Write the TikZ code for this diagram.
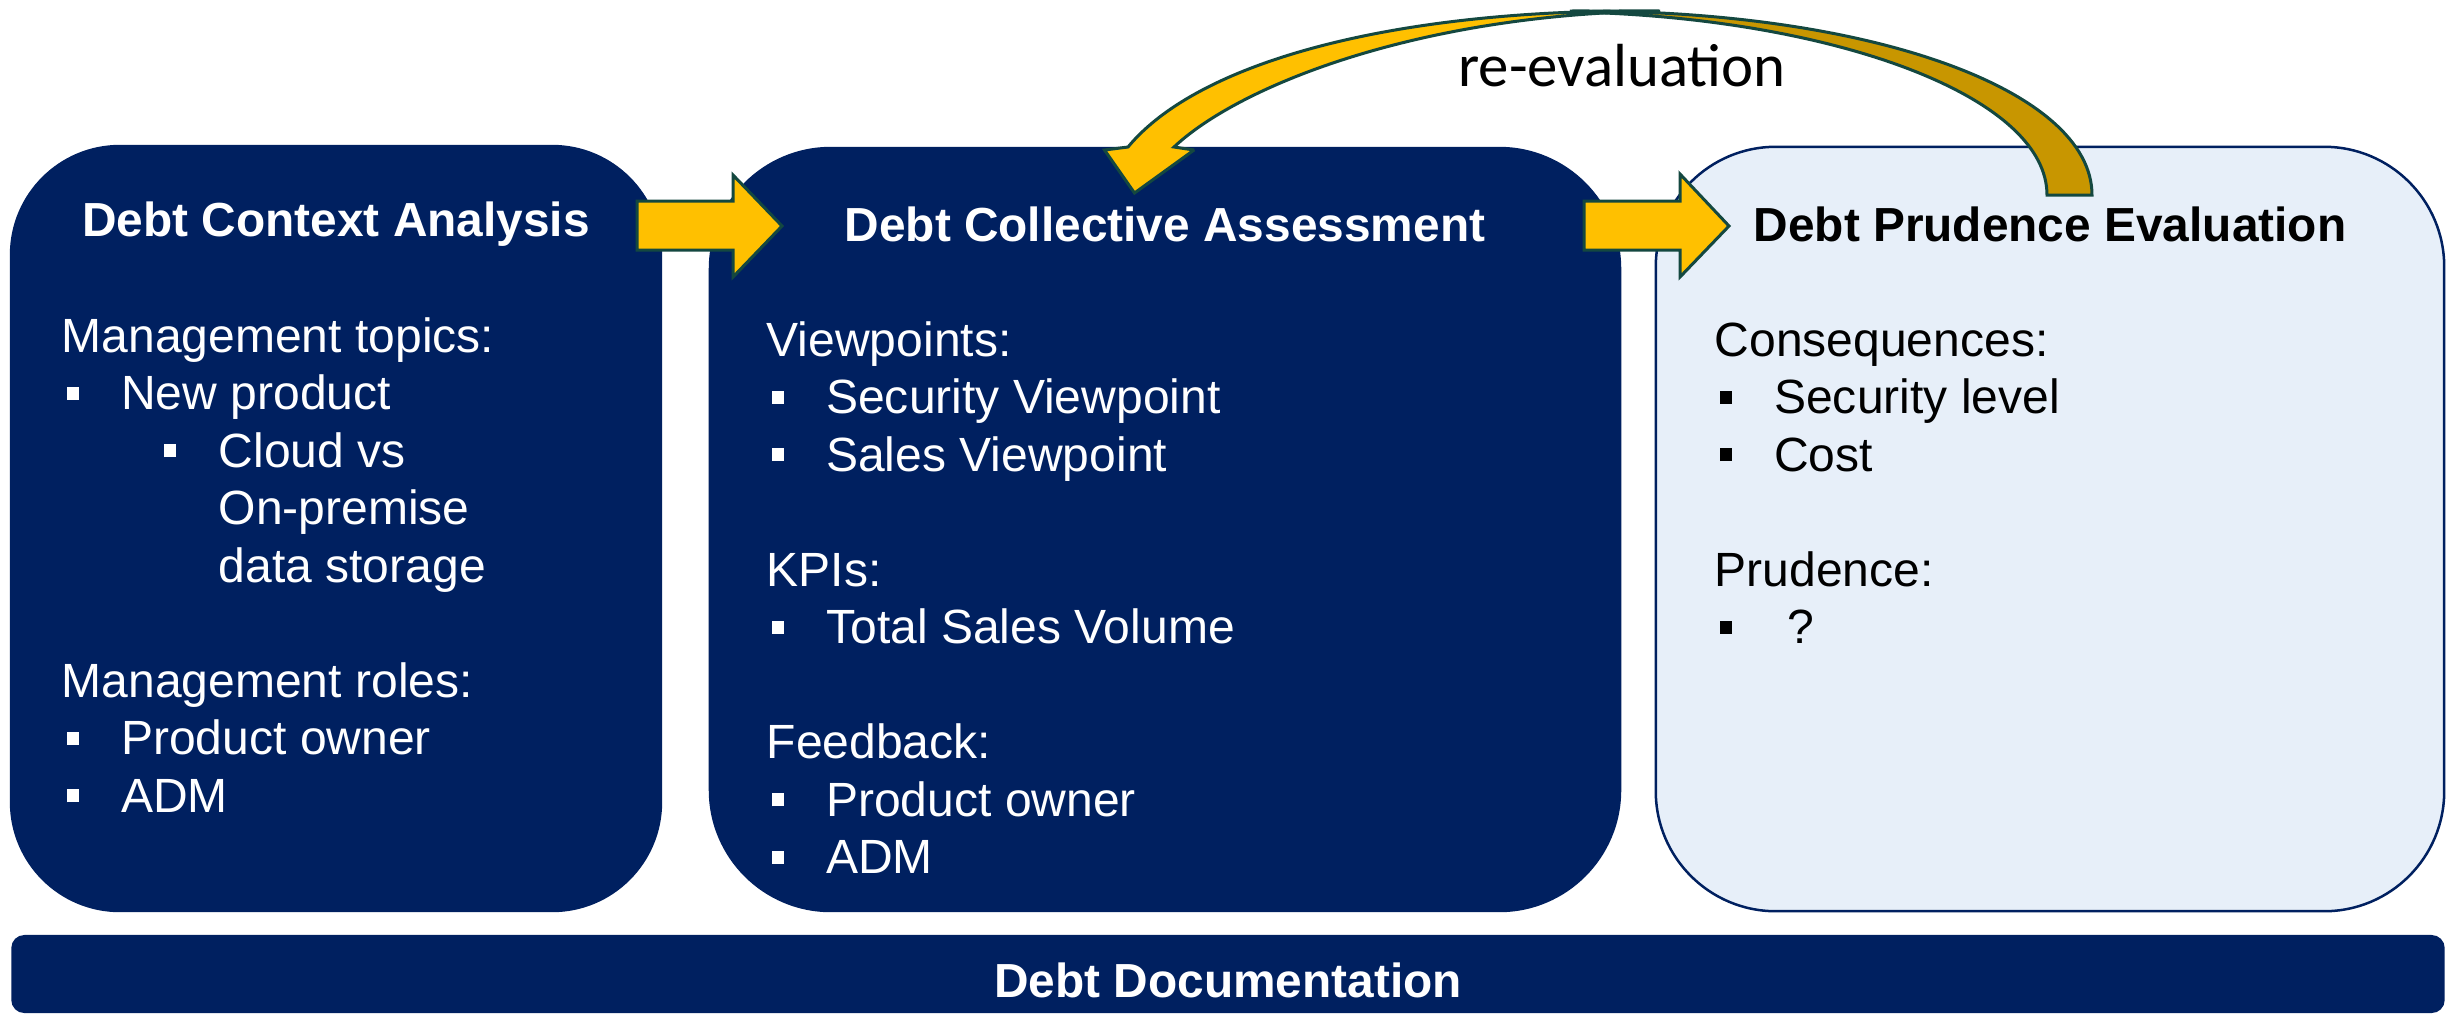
\documentclass[tikz,border=0pt]{standalone}
\usepackage{fontspec}
\setmainfont{Liberation Sans}
\newfontfamily\calib{Carlito}
\definecolor{navy}{RGB}{0,32,96}
\definecolor{paleblue}{RGB}{231,239,249}
\definecolor{arrowyellow}{RGB}{255,192,0}
\definecolor{arrowgold}{RGB}{200,150,0}
\definecolor{arrowedge}{RGB}{20,72,64}
\newcommand\bodyfnt{\fontsize{13.66pt}{16.36pt}\selectfont}
\newcommand\bsq{\rule[0.1cm]{0.125cm}{0.13cm}}
\newcommand\itm[1]{\hbox{\hspace*{0.05cm}\bsq\hspace*{0.42cm}#1}}
\newcommand\sitm[1]{\hbox{\hspace*{1.02cm}\bsq\hspace*{0.425cm}#1}}
\newcommand\cont[1]{\hbox{\hspace*{1.57cm}#1}}
\newcommand\plain[1]{\hbox{#1}}
\newcommand\blankline{\hbox{}}
\begin{document}
\begin{tikzpicture}[x=0.01cm,y=-0.01cm,
  darkbox/.style={rectangle,fill=navy,inner sep=0pt},
  lightbox/.style={rectangle,fill=paleblue,draw=navy,line width=0.025cm,inner sep=0pt},
  titletxt/.style={anchor=base,inner sep=0pt,font=\bfseries\fontsize{13.6pt}{16pt}\selectfont},
  bodytxt/.style={anchor=base west,inner sep=0pt},
  blockarrow/.style={fill=arrowyellow,draw=arrowedge,line width=0.03cm},
  curvefront/.style={fill=arrowyellow,draw=arrowedge,line width=0.03cm,miter limit=2.5},
  curveback/.style={fill=arrowgold,draw=arrowedge,line width=0.03cm,miter limit=2.5}]
\useasboundingbox[fill=white] (0,0) rectangle (2453,1020);

% boxes
\node[darkbox,rounded corners=1.1cm,minimum width=6.52cm,minimum height=7.67cm] (ctx) at (336,528.5) {};
\node[darkbox,rounded corners=1.22cm,minimum width=9.12cm,minimum height=7.65cm] (col) at (1165,529.5) {};
\node[lightbox,rounded corners=1.2cm,minimum width=7.88cm,minimum height=7.64cm] (pru) at (2050,529) {};
\node[darkbox,rounded corners=0.13cm,minimum width=24.32cm,minimum height=0.78cm] (doc) at (1228,974) {};

% block arrows between boxes
\path[blockarrow] (637,201) -- (733,201) -- (733,175) -- (782,226) -- (733,277) -- (733,250) -- (637,250) -- cycle;
\path[blockarrow] (1584,201) -- (1680,201) -- (1680,174) -- (1729,226) -- (1680,277) -- (1680,250) -- (1584,250) -- cycle;

% curved re-evaluation arrow
\path[curveback] (1570,11) .. controls (1870,9) and (2092,90) .. (2092,195) -- (2047,195) .. controls (2047,100) and (1850,24) .. (1605,13) -- cycle;
\path[curvefront] (1104.5,150) -- (1128,147) .. controls (1200,60) and (1400,8) .. (1660,11) .. controls (1420,14) and (1240,85) .. (1174,147) -- (1194,150) -- (1134.5,193) -- cycle;

\node[anchor=base,inner sep=0pt,font=\calib\fontsize{17.3pt}{20pt}\selectfont] (reeval) at (1622,86) {re-evaluation};

% titles
\node[titletxt,text=white] (ctxtitle) at (336,236) {Debt Context Analysis};
\node[titletxt,text=white] (coltitle) at (1165,241) {Debt Collective Assessment};
\node[titletxt,text=black] (prutitle) at (2050,241) {Debt Prudence Evaluation};
\node[titletxt,text=white] (doctitle) at (1228,997) {Debt Documentation};

% bodies
\node[bodytxt,text=white] (ctxbody) at (61,352) {\vtop{\bodyfnt
  \plain{Management topics:}
  \itm{New product}
  \sitm{Cloud vs}
  \cont{On-premise}
  \cont{data storage}
  \blankline
  \plain{Management roles:}
  \itm{Product owner}
  \itm{ADM}}};
\node[bodytxt,text=white] (colbody) at (766,356) {\vtop{\bodyfnt
  \plain{Viewpoints:}
  \itm{Security Viewpoint}
  \itm{Sales Viewpoint}
  \blankline
  \plain{KPIs:}
  \itm{Total Sales Volume}
  \blankline
  \plain{Feedback:}
  \itm{Product owner}
  \itm{ADM}}};
\node[bodytxt,text=black] (prubody) at (1714,356) {\vtop{\bodyfnt
  \plain{Consequences:}
  \itm{Security level}
  \itm{Cost}
  \blankline
  \plain{Prudence:}
  \itm{\hspace*{0.13cm}?}}};
\end{tikzpicture}
\end{document}
